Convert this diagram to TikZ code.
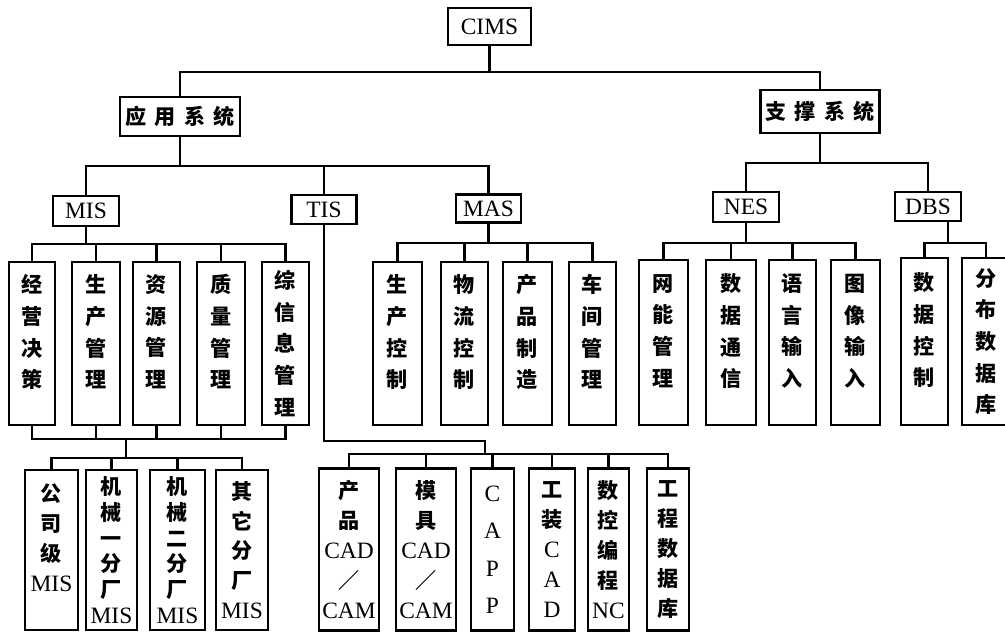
\documentclass[tikz,border=0pt]{standalone}
\usepackage{fontspec}
\setmainfont{Liberation Serif}
\newfontfamily\zhfont{Noto Sans CJK SC}
\usepackage{tikz}
\newcommand\lat[1]{{\rmfamily\mdseries\fontsize{20}{24}\selectfont #1}}

\begin{document}
\begin{tikzpicture}[
    x=0.03cm,y=-0.03cm,
    wire/.style={line width=2pt},
    topbox/.style={
        draw, line width=2pt,
        inner sep=0pt,
        font=\rmfamily\fontsize{20}{24}\selectfont
    },
    zhbox/.style={
        topbox,
        font=\zhfont\bfseries\fontsize{18}{20}\selectfont
    },
    vbox/.style={
        draw, line width=2pt,
        inner sep=0pt, align=center,
        minimum height=4.89cm,
        minimum width=1.44cm,
        font=\zhfont\bfseries\fontsize{18}{27}\selectfont
    },
    lowbox/.style={
        vbox,
        minimum height=4.86cm,
        font=\zhfont\bfseries\fontsize{18}{25.5}\selectfont
    },
    lift/.style={text depth=21pt}
]
\useasboundingbox (0,0) rectangle (1005,635);

% --- Top levels ---
\node[topbox, minimum width=2.49cm, minimum height=1.11cm] (cims) at (489.5,26.5) {CIMS};

\node[zhbox, minimum width=3.6cm, minimum height=1.17cm] (app) at (180,116.5)
{应\hspace{7pt}用\hspace{7pt}系\hspace{7pt}统};
\node[zhbox, minimum width=3.57cm, minimum height=1.29cm] (sup) at (820,111.5)
{支\hspace{7pt}撑\hspace{7pt}系\hspace{7pt}统};

\node[topbox, minimum width=1.98cm, minimum height=0.9cm] (mis) at (86,211) {MIS};
\node[topbox, minimum width=1.95cm, minimum height=0.87cm] (tis) at (324,209.5) {TIS};
\node[topbox, minimum width=1.95cm, minimum height=0.84cm] (mas) at (488.5,208.5) {MAS};
\node[topbox, minimum width=1.98cm, minimum height=0.9cm] (nes) at (746,207) {NES};
\node[topbox, minimum width=1.98cm, minimum height=0.87cm] (dbs) at (928,206.5) {DBS};

% --- MIS subsystems ---
\node[vbox, lift, minimum width=1.38cm] (jy) at (32,343.5) {经\\营\\决\\策};
\node[vbox, lift] (sc) at (96,343.5) {生\\产\\管\\理};
\node[vbox, lift, minimum width=1.41cm] (zy) at (156.5,343.5) {资\\源\\管\\理};
\node[vbox, lift] (zl) at (221,343.5) {质\\量\\管\\理};
\node[vbox, minimum width=1.41cm] (zx) at (285.5,343.5) {综\\信\\息\\管\\理};

% --- MAS subsystems ---
\node[vbox, lift, minimum width=1.47cm] (sk) at (397.5,343.5) {生\\产\\控\\制};
\node[vbox, lift, minimum width=1.41cm] (wl) at (464.5,343.5) {物\\流\\控\\制};
\node[vbox, lift, minimum width=1.47cm] (cp) at (527.5,343.5) {产\\品\\制\\造};
\node[vbox, lift, minimum width=1.41cm] (cj) at (592.5,343.5) {车\\间\\管\\理};

% --- NES subsystems ---
\node[vbox, lift, minimum width=1.47cm, minimum height=4.95cm] (wn) at (663.5,342.5) {网\\能\\管\\理};
\node[vbox, lift, minimum width=1.5cm, minimum height=4.95cm] (sj) at (731,342.5) {数\\据\\通\\信};
\node[vbox, lift, minimum width=1.41cm, minimum height=4.95cm] (yy) at (792.5,342.5) {语\\言\\输\\入};
\node[vbox, lift, minimum width=1.47cm, minimum height=4.95cm] (tx) at (855.5,342.5) {图\\像\\输\\入};

% --- DBS subsystems ---
\node[vbox, lift, minimum width=1.41cm, minimum height=5.01cm] (sjk) at (924.5,341.5) {数\\据\\控\\制};
\node[vbox, minimum width=1.44cm, minimum height=5.01cm] (fb) at (986,341.5) {分\\布\\数\\据\\库};

% --- Plant level MIS ---
\node[lowbox, lift, minimum width=1.59cm, minimum height=4.8cm] (gs) at (51.5,550) {公\\司\\级\\\lat{MIS}};
\node[lowbox, minimum width=1.53cm, minimum height=4.8cm,
      font=\zhfont\bfseries\fontsize{18}{22}\selectfont] (jxa) at (111.5,550)
{机\\械\\一\\分\\厂\\\lat{MIS}};
\node[lowbox, minimum width=1.65cm, minimum height=4.8cm,
      font=\zhfont\bfseries\fontsize{18}{22}\selectfont] (jxb) at (177.5,550)
{机\\械\\二\\分\\厂\\\lat{MIS}};
\node[lowbox, minimum width=1.56cm, minimum height=4.8cm] (qt) at (242,550) {其\\它\\分\\厂\\\lat{MIS}};

% --- TIS subsystems ---
\node[lowbox, minimum width=1.8cm] (cada) at (349,549.5) {产\\品\\\lat{CAD}\\／\\\lat{CAM}};
\node[lowbox, minimum width=1.8cm] (cadb) at (426,549.5) {模\\具\\\lat{CAD}\\／\\\lat{CAM}};
\node[lowbox, minimum width=1.29cm,
      font=\zhfont\bfseries\fontsize{18}{32}\selectfont] (capp) at (492.5,549.5)
{\lat{C}\\\lat{A}\\\lat{P}\\\lat{P}};
\node[lowbox, minimum width=1.38cm] (gz) at (552,549.5) {工\\装\\\lat{C}\\\lat{A}\\\lat{D}};
\node[lowbox, minimum width=1.23cm] (nc) at (608.5,549.5) {数\\控\\编\\程\\\lat{NC}};
\node[lowbox, minimum width=1.26cm] (gc) at (668,549.5) {工\\程\\数\\据\\库};

% --- Connectors, upper part ---
\coordinate (k0) at (489.5,72);
\draw[wire] (cims.south) -- (k0);
\draw[wire] (app.north) |- (k0) -| (sup.north);

\coordinate (k1) at (180,166);
\draw[wire] (app.south) -- (k1);
\draw[wire] (mis.north) |- (k1) -| (mas.north);
\draw[wire] (tis.north) -- (tis.north |- k1);

\coordinate (k2) at (820,163);
\draw[wire] (sup.south) -- (k2);
\draw[wire] (nes.north) |- (k2) -| (dbs.north);

% --- MIS branch ---
\coordinate (k3) at (86,244);
\draw[wire] (mis.south) -- (k3);
\draw[wire] (jy.north) |- (k3) -| (zx.north);
\foreach \n in {sc,zy,zl}
    \draw[wire] (\n.north) -- (\n.north |- k3);

\coordinate (k4) at (126,439);
\coordinate (k5) at (126,458);
\draw[wire] (jy.south) |- (k4) -| (zx.south);
\foreach \n in {sc,zy,zl}
    \draw[wire] (\n.south) -- (\n.south |- k4);
\draw[wire] (k4) -- (k5);
\draw[wire] (gs.north) |- (k5) -| (qt.north);
\foreach \n in {jxa,jxb}
    \draw[wire] (\n.north) -- (\n.north |- k5);

% --- TIS branch ---
\coordinate (k6) at (485,441);
\coordinate (k7) at (485,454);
\draw[wire] (tis.south) |- (k6) -- (k7);
\draw[wire] (cada.north) |- (k7) -| (gc.north);
\foreach \n in {cadb,capp,gz,nc}
    \draw[wire] (\n.north) -- (\n.north |- k7);

% --- MAS branch ---
\coordinate (k8) at (488.5,243);
\draw[wire] (mas.south) -- (k8);
\draw[wire] (sk.north) |- (k8) -| (cj.north);
\foreach \n in {wl,cp}
    \draw[wire] (\n.north) -- (\n.north |- k8);

% --- NES branch ---
\coordinate (k9) at (746,243);
\draw[wire] (nes.south) -- (k9);
\draw[wire] (wn.north) |- (k9) -| (tx.north);
\foreach \n in {sj,yy}
    \draw[wire] (\n.north) -- (\n.north |- k9);

% --- DBS branch ---
\coordinate (k10) at (948,243);
\draw[wire] (dbs.south -| k10) -- (k10);
\draw[wire] (sjk.north) |- (k10) -| (fb.north);

\end{tikzpicture}
\end{document}
